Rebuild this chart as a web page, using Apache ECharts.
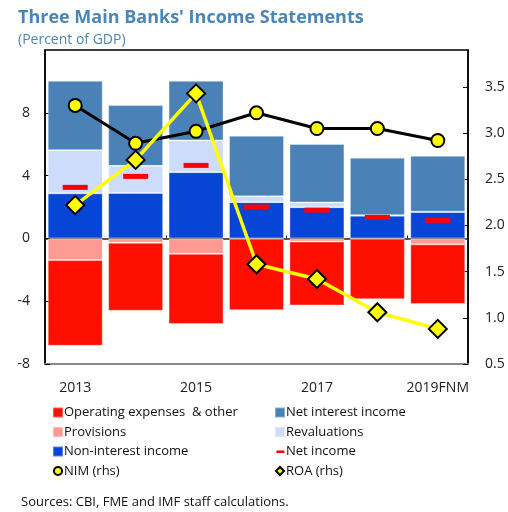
<!DOCTYPE html>
<html><head><meta charset="utf-8">
<script src="https://cdn.jsdelivr.net/npm/echarts@6/dist/echarts.min.js"></script>
<style>html,body{margin:0;padding:0;background:#fff}#c{width:508px;height:512px}</style>
</head><body><div id="c"></div>
<script>
const categories = ['2013','2014','2015','2016','2017','2018','2019FNM'];
const nonInterestIncome = [2.87, 2.89, 4.22, 2.31, 1.99, 1.45, 1.68];
const revaluations      = [2.75, 1.73, 2.02, 0.37, 0.30, 0.03, 0.02];
const netInterestIncome = [4.42, 3.87, 3.80, 3.86, 3.72, 3.66, 3.56];
const provisions        = [-1.38, -0.28, -0.98, -0.03, -0.20, -0.03, -0.38];
const operatingExpenses = [-5.46, -4.33, -4.48, -4.54, -4.07, -3.84, -3.80];
const netIncome         = [3.25, 3.95, 4.65, 2.00, 1.80, 1.34, 1.15];
const nim = [3.30, 2.89, 3.02, 3.22, 3.05, 3.05, 2.92];
const roa = [2.22, 2.71, 3.43, 1.58, 1.42, 1.06, 0.88];
const leftTicks = {min: -8, max: 12, interval: 4};
const rightTicks = {min: 0.5, max: 3.9, interval: 0.5};

const FONT = '"Open Sans", "Noto Sans", sans-serif';
const chart = echarts.init(document.getElementById('c'), null, {renderer: 'canvas'});
const barBorder = {borderColor: 'rgba(255,255,255,0.35)', borderWidth: 1};
function bar(name, data, color) {
  return {name, type: 'bar', stack: 'all', data, barCategoryGap: '9%',
    itemStyle: Object.assign({color}, barBorder), xAxisIndex: 0, yAxisIndex: 0, z: 2};
}
const legendText = {fontFamily: FONT, fontSize: 13, color: '#111', padding: [0,0,0,-4]};
const option = {
  animation: false,
  textStyle: {fontFamily: FONT},
  title: [
    {text: "Three Main Banks' Income Statements", left: 13, top: 4,
     textStyle: {fontFamily: FONT, fontSize: 18, fontWeight: 'bold', color: '#4a86b8'}},
    {text: '(Percent of GDP)', left: 13, top: 28,
     textStyle: {fontFamily: FONT, fontSize: 14, fontWeight: 'normal', color: '#4a86b8'}},
    {text: 'Sources: CBI, FME and IMF staff calculations.', left: 16, top: 491,
     textStyle: {fontFamily: FONT, fontSize: 13, fontWeight: 'normal', color: '#111'}}
  ],
  grid: {left: 45, right: 40, top: 50, bottom: 148, show: true, borderColor: '#000', borderWidth: 1.5, backgroundColor: 'transparent'},
  legend: [
    {orient: 'vertical', left: 47, top: 401, itemWidth: 10, itemHeight: 10, itemGap: 6.5,
     textStyle: legendText,
     data: [
       {name: 'Operating expenses  & other', icon: 'rect'},
       {name: 'Provisions', icon: 'rect'},
       {name: 'Non-interest income', icon: 'rect'},
       {name: 'NIM (rhs)'}
     ]},
    {orient: 'vertical', left: 269, top: 401, itemWidth: 10, itemHeight: 10, itemGap: 6.5,
     textStyle: legendText,
     data: [
       {name: 'Net interest income', icon: 'rect'},
       {name: 'Revaluations', icon: 'rect'},
       {name: 'Net income', icon: 'path://M0,0L0,0M0,10L0,10M1,4L9,4L9,6.5L1,6.5Z'},
       {name: 'ROA (rhs)'}
     ]}
  ],
  xAxis: [
    {type: 'category', data: categories, position: 'bottom',
     axisLine: {onZero: false, lineStyle: {color: '#888', width: 2}},
     axisTick: {show: false},
     axisLabel: {interval: 1, fontSize: 14, color: '#222', margin: 17, fontFamily: FONT}},
    {type: 'category', data: categories, position: 'bottom',
     axisLine: {onZero: true, lineStyle: {color: '#222', width: 1.5}},
     axisTick: {show: true, inside: true, length: 3, lineStyle: {color: '#222'}},
     axisLabel: {show: false}}
  ],
  yAxis: [
    {type: 'value', min: leftTicks.min, max: leftTicks.max, interval: leftTicks.interval, position: 'left',
     splitLine: {show: false},
     axisLine: {show: true, lineStyle: {color: '#000', width: 1.5}},
     axisTick: {show: true, inside: true, length: 5, lineStyle: {color: '#000'}},
     axisLabel: {showMaxLabel: false, fontSize: 14, color: '#222', margin: 15, fontFamily: FONT}},
    {type: 'value', min: rightTicks.min, max: rightTicks.max, interval: rightTicks.interval, position: 'right',
     splitLine: {show: false},
     axisLine: {show: true, lineStyle: {color: '#000', width: 1.5}},
     axisTick: {show: true, inside: true, length: 5, lineStyle: {color: '#000'}},
     axisLabel: {showMaxLabel: false, fontSize: 14, color: '#222', margin: 17, fontFamily: FONT,
       formatter: v => v.toFixed(1)}}
  ],
  series: [
    bar('Non-interest income', nonInterestIncome, '#0645d6'),
    bar('Revaluations', revaluations, '#ccdcfa'),
    bar('Net interest income', netInterestIncome, '#4a82b7'),
    bar('Provisions', provisions, '#ff9a92'),
    bar('Operating expenses  & other', operatingExpenses, '#ff0f00'),
    {name: 'Net income', type: 'scatter', data: netIncome, xAxisIndex: 0, yAxisIndex: 0,
     symbol: 'rect', symbolSize: [25, 5], itemStyle: {color: '#ff0000', opacity: 1}, z: 3},
    {name: 'NIM (rhs)', type: 'line', data: nim, xAxisIndex: 0, yAxisIndex: 1,
     symbol: 'circle', symbolSize: 13,
     lineStyle: {color: '#000', width: 3},
     itemStyle: {color: '#ffff00', borderColor: '#000', borderWidth: 2}, z: 5},
    {name: 'ROA (rhs)', type: 'line', data: roa, xAxisIndex: 0, yAxisIndex: 1,
     symbol: 'diamond', symbolSize: 18,
     lineStyle: {color: '#ffff00', width: 3.5},
     itemStyle: {color: '#ffff00', borderColor: '#000', borderWidth: 2}, z: 6}
  ]
};
chart.setOption(option);
</script></body></html>
